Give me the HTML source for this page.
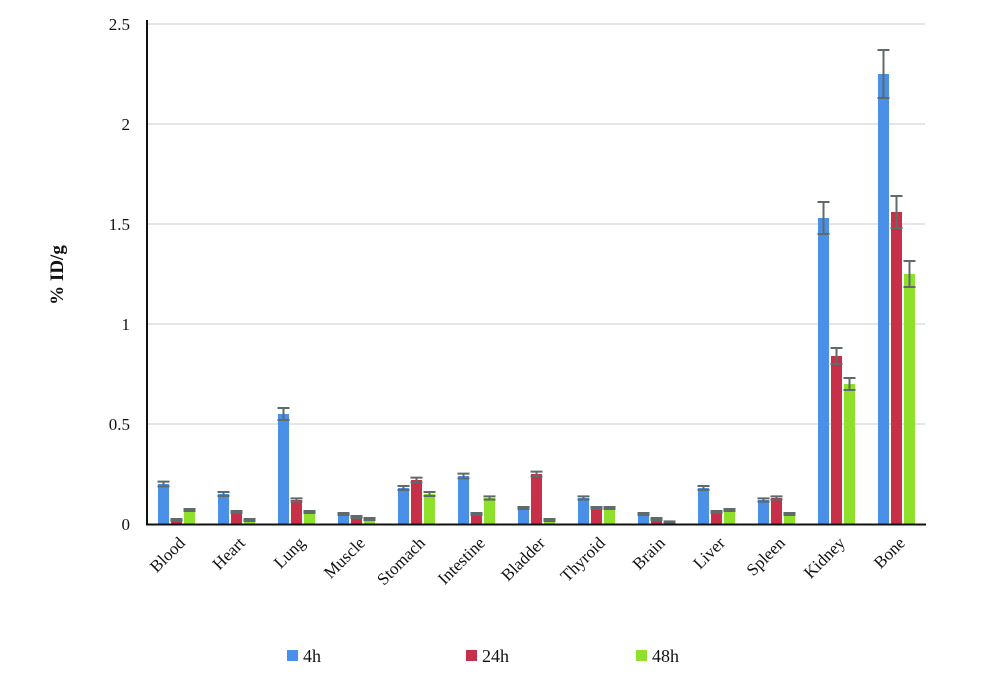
<!DOCTYPE html>
<html><head><meta charset="utf-8"><style>
body{margin:0;background:#fff}
svg text{font-family:"Liberation Serif",serif;fill:#111}
</style></head><body>
<svg width="1000" height="686">
<g id="grid"></g>
<g id="bars"></g>
<g id="ticks"></g>
<g id="cats"></g>
<line x1="147" y1="20" x2="147" y2="525" stroke="#111" stroke-width="2"/>
<line x1="146" y1="524.5" x2="926" y2="524.5" stroke="#111" stroke-width="2"/>
<text x="63" y="275" transform="rotate(-90 63 275)" text-anchor="middle" font-size="19" font-weight="bold">% ID/g</text>
<g>
<rect x="287" y="650" width="11" height="11" fill="#4a90e8"/>
<text x="303" y="662" font-size="18">4h</text>
<rect x="466" y="650" width="11" height="11" fill="#c8304a"/>
<text x="482" y="662" font-size="18">24h</text>
<rect x="636" y="650" width="11" height="11" fill="#8ee02a"/>
<text x="652" y="662" font-size="18">48h</text>
</g>
</svg>
<script>
const categories=["Blood","Heart","Lung","Muscle","Stomach","Intestine","Bladder","Thyroid","Brain","Liver","Spleen","Kidney","Bone"];
const v4h=[0.2,0.15,0.55,0.05,0.18,0.24,0.08,0.13,0.05,0.18,0.12,1.53,2.25];
const v24h=[0.02,0.06,0.12,0.035,0.22,0.05,0.25,0.08,0.025,0.06,0.13,0.84,1.56];
const v48h=[0.07,0.02,0.06,0.025,0.15,0.13,0.02,0.08,0.01,0.07,0.05,0.70,1.25];
const e4h=[0.012,0.01,0.03,0.005,0.01,0.012,0.005,0.008,0.005,0.01,0.008,0.08,0.12];
const e24h=[0.005,0.005,0.008,0.005,0.012,0.005,0.012,0.005,0.005,0.005,0.008,0.04,0.08];
const e48h=[0.005,0.005,0.005,0.005,0.01,0.008,0.005,0.005,0.003,0.005,0.005,0.03,0.065];
const tickVals=[0,0.5,1,1.5,2,2.5];
const tickLabels=["0","0.5","1","1.5","2","2.5"];
const NS="http://www.w3.org/2000/svg";
const y=v=>524-v*200;
const gx=i=>158+i*60;
function mk(t,a,p){const e=document.createElementNS(NS,t);for(const k in a)e.setAttribute(k,a[k]);p.appendChild(e);return e;}
const grid=document.getElementById('grid'),ticks=document.getElementById('ticks'),bars=document.getElementById('bars'),cats=document.getElementById('cats');
tickVals.forEach((t,i)=>{
 if(t>0){const l=mk('line',{x1:147,x2:925,y1:y(t),y2:y(t),stroke:'#e3e6e6','stroke-width':2},grid);
 
 }
 const tx=mk('text',{x:130,y:y(t)+6,'text-anchor':'end','font-size':17},ticks);tx.textContent=tickLabels[i];
 
 
});
const series=[[v4h,e4h,'#4a90e8','4h'],[v24h,e24h,'#c8304a','24h'],[v48h,e48h,'#8ee02a','48h']];
categories.forEach((c,i)=>{
 series.forEach((s,j)=>{
  const x=gx(i)+j*13,v=s[0][i],e=s[1][i];
  const r=mk('rect',{x:x,y:y(v),width:11,height:524-y(v),fill:s[2]},bars);
  
  
  const cx=x+5.5;
  const eb=mk('path',{d:`M${cx},${y(v+e)}V${y(v-e)}M${cx-6},${y(v+e)}H${cx+6}M${cx-6},${y(v-e)}H${cx+6}`,stroke:'#5f6a6a','stroke-width':2,fill:'none'},bars);
  
  
 });
 const lx=gx(i)+28,ly=544;
 const t=mk('text',{x:lx,y:ly,'text-anchor':'end','font-size':17,transform:`rotate(-45 ${lx} ${ly})`},cats);t.textContent=c;
 
 
});
</script>
</body></html>
